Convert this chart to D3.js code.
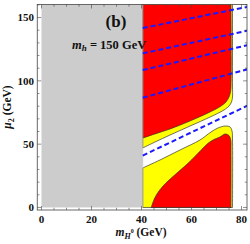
<!DOCTYPE html>
<html>
<head>
<meta charset="utf-8">
<script src="https://cdn.jsdelivr.net/npm/d3@7"></script>
<style>
  body { margin: 0; background: #fff; }
  text { font-family: 'Liberation Serif', 'Times New Roman', serif; font-weight: bold; fill: #111; }
</style>
</head>
<body>
<svg width="250" height="244"></svg>
<script>
const svg = d3.select('svg');

// excluded region (m_H0 < m_h/2 style band)
const grayX = [0, 40.5];

// upper allowed region boundary (right side, top -> left edge)
const upperRed = [[75.8, 162], [75.8, 95.9], [75.6, 91.2], [75.0, 87.2], [73.8, 83.3], [71.8, 80.1],
  [67.4, 75.4], [59.4, 68.3], [51.4, 62.0], [45.4, 58.1], [40.5, 54.8]];
const upperYellow = [[76.4, 162], [76.4, 95.9], [76.4, 87.2], [76.0, 83.3], [75.0, 80.1], [73.0, 77.0],
  [67.4, 71.4], [59.4, 64.3], [51.4, 57.2], [45.4, 51.7], [40.5, 47.0]];

// lower region boundary (left edge -> right edge)
const lowerYellow = [[40.5, 31.2], [47.4, 37.5], [55.4, 45.4], [63.4, 53.3], [67.8, 59.6], [70.6, 62.8],
  [73.4, 64.3], [75.4, 63.6], [76.2, 60.4], [76.4, 53.3], [76.4, 0]];
const lowerRed = [[43.9, 0], [45.3, 7.5], [47.3, 13.8], [49.9, 19.6], [53.3, 25.7], [58.6, 34.9],
  [63.9, 45.4], [66.6, 50.7], [69.0, 53.7], [71.4, 55.7], [73.4, 58.0], [75.0, 56.8],
  [75.7, 53.3], [75.8, 45.4], [75.8, 0]];

// blue dashed contours: [x, mu2] at both ends
const dashLines = [
  [[40.5, 141.7], [83, 158.7]],
  [[40.5, 121.7], [83, 139.9]],
  [[40.5, 108.5], [83, 128.5]],
  [[40.5, 86.7], [83, 109.5]],
  [[40.5, 41.0], [83, 81.0]]
];

const xTicks = [0, 20, 40, 60, 80];
const yTicks = [0, 50, 100, 150];
const xMinor = d3.range(0, 85, 5).filter(v => xTicks.indexOf(v) < 0);
const yMinor = d3.range(0, 161, 10).filter(v => yTicks.indexOf(v) < 0);

const x = d3.scaleLinear().domain([-1.7, 82.2]).range([37.25, 247]);
const y = d3.scaleLinear().domain([-2, 160.3]).range([210, 4.5]);

const fLeft = x.range()[0], fRight = x.range()[1];
const fTop = y.range()[1], fBottom = y.range()[0];

svg.append('clipPath').attr('id', 'frame')
  .append('rect')
    .attr('x', fLeft).attr('y', fTop)
    .attr('width', fRight - fLeft).attr('height', fBottom - fTop);

const plot = svg.append('g').attr('clip-path', 'url(#frame)');

const curve = d3.line()
  .x(d => x(d[0])).y(d => y(d[1]))
  .curve(d3.curveCatmullRom.alpha(0.5));

const region = (pts, extra) =>
  curve(pts) + extra.map(p => `L${x(p[0])},${y(p[1])}`).join('') + 'Z';

plot.append('rect')
  .attr('x', x(grayX[0])).attr('y', fTop)
  .attr('width', x(grayX[1]) - x(grayX[0]))
  .attr('height', y(0) - fTop)
  .attr('fill', '#cccccc');

plot.append('path')
  .attr('d', region(upperYellow, [[40.5, 162]]))
  .attr('fill', '#ffff00').attr('stroke', '#333').attr('stroke-width', 0.7);

plot.append('path')
  .attr('d', region(upperRed, [[40.5, 162]]))
  .attr('fill', '#ff0000').attr('stroke', '#333').attr('stroke-width', 0.7);

plot.append('path')
  .attr('d', region(lowerYellow, [[40.5, 0]]))
  .attr('fill', '#ffff00').attr('stroke', '#333').attr('stroke-width', 0.7);

plot.append('path')
  .attr('d', region(lowerRed, []))
  .attr('fill', '#ff0000').attr('stroke', '#333').attr('stroke-width', 0.7);

// hide the region strokes along the gray band edge
plot.append('line')
  .attr('x1', x(grayX[1])).attr('x2', x(grayX[1]))
  .attr('y1', fTop).attr('y2', y(0))
  .attr('stroke', '#cccccc').attr('stroke-width', 0.8);

plot.selectAll('.dash').data(dashLines)
  .enter().append('line')
    .attr('class', 'dash')
    .attr('x1', d => x(d[0][0])).attr('y1', d => y(d[0][1]))
    .attr('x2', d => x(d[1][0])).attr('y2', d => y(d[1][1]))
    .attr('stroke', '#1a1aff')
    .attr('stroke-width', 2)
    .attr('stroke-dasharray', '5,3');

// frame + inward ticks on all sides
const axisColor = '#444';
const frame = svg.append('g');

frame.append('rect')
  .attr('x', fLeft).attr('y', fTop)
  .attr('width', fRight - fLeft).attr('height', fBottom - fTop)
  .attr('fill', 'none').attr('stroke', axisColor).attr('stroke-width', 0.8);

const tickX = (vals, len) => {
  vals.forEach(v => {
    frame.append('line').attr('x1', x(v)).attr('x2', x(v)).attr('y1', fBottom).attr('y2', fBottom - len)
      .attr('stroke', axisColor).attr('stroke-width', 0.6);
    frame.append('line').attr('x1', x(v)).attr('x2', x(v)).attr('y1', fTop).attr('y2', fTop + len)
      .attr('stroke', axisColor).attr('stroke-width', 0.6);
  });
};
const tickY = (vals, len) => {
  vals.forEach(v => {
    frame.append('line').attr('y1', y(v)).attr('y2', y(v)).attr('x1', fLeft).attr('x2', fLeft + len)
      .attr('stroke', axisColor).attr('stroke-width', 0.6);
    frame.append('line').attr('y1', y(v)).attr('y2', y(v)).attr('x1', fRight).attr('x2', fRight - len)
      .attr('stroke', axisColor).attr('stroke-width', 0.6);
  });
};
tickX(xTicks, 4);
tickX(xMinor, 2.2);
tickY(yTicks, 4);
tickY(yMinor, 2.2);

svg.selectAll('.xlab').data(xTicks)
  .enter().append('text')
    .attr('x', d => x(d)).attr('y', 222.5)
    .attr('text-anchor', 'middle')
    .attr('font-size', 11)
    .text(d => d);

svg.selectAll('.ylab').data(yTicks)
  .enter().append('text')
    .attr('x', 34).attr('y', d => y(d) + 3.8)
    .attr('text-anchor', 'end')
    .attr('font-size', 11)
    .text(d => d);

// axis titles
const xt = svg.append('text')
  .attr('x', 141).attr('y', 236)
  .attr('text-anchor', 'middle')
  .attr('font-size', 11.5);
xt.append('tspan').attr('font-style', 'italic').text('m');
xt.append('tspan').attr('font-style', 'italic').attr('font-size', 8).attr('dy', 2.5).text('H');
xt.append('tspan').attr('font-size', 6).attr('dy', -6).text('0');
xt.append('tspan').attr('dy', 3.5).text(' (GeV)');

const yt = svg.append('text')
  .attr('transform', 'translate(11,107) rotate(-90)')
  .attr('text-anchor', 'middle')
  .attr('font-size', 11.5);
yt.append('tspan').attr('font-style', 'italic').text('μ');
yt.append('tspan').attr('font-size', 8).attr('dy', 2.5).text('2');
yt.append('tspan').attr('dy', -2.5).text(' (GeV)');

svg.append('text')
  .attr('x', 116).attr('y', 27)
  .attr('text-anchor', 'middle')
  .attr('font-size', 17)
  .text('(b)');

const mh = svg.append('text')
  .attr('x', 72).attr('y', 48.5)
  .attr('font-size', 12.5);
mh.append('tspan').attr('font-style', 'italic').text('m');
mh.append('tspan').attr('font-style', 'italic').attr('font-size', 9).attr('dy', 2.5).text('h');
mh.append('tspan').attr('dy', -2.5).text(' = 150 GeV');
</script>
</body>
</html>
